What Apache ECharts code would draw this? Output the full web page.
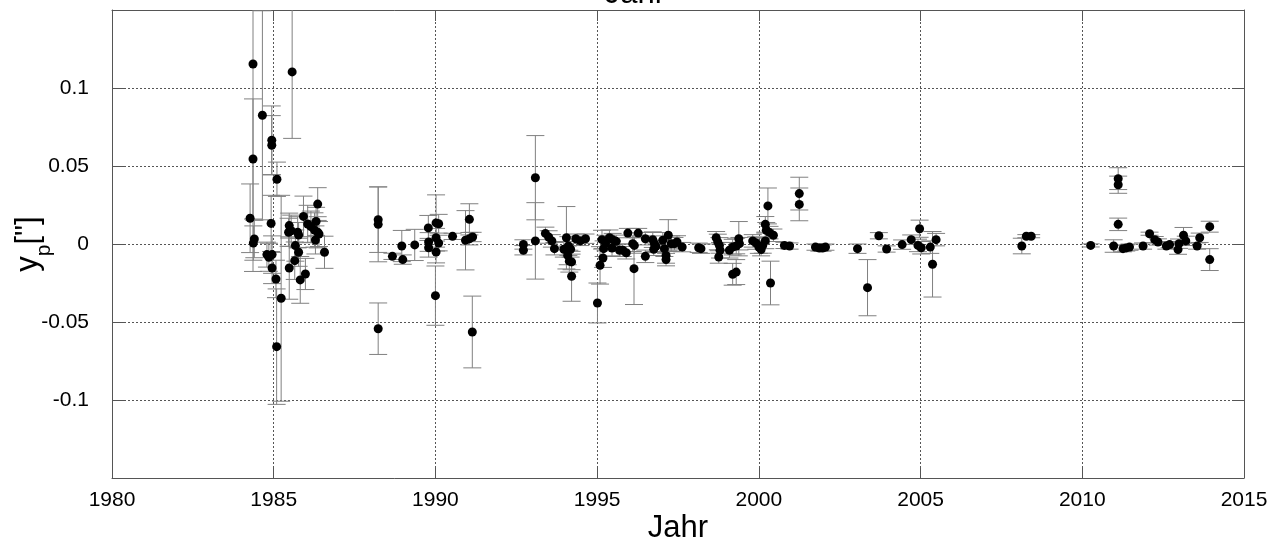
<!DOCTYPE html>
<html>
<head>
<meta charset="utf-8">
<script src="https://cdn.jsdelivr.net/npm/echarts@6/dist/echarts.min.js"></script>
<style>
html,body{margin:0;padding:0;background:#fff;}
#chart{width:1270px;height:541px;}
</style>
</head>
<body>
<div id="chart"></div>
<script>
// Observation epochs (year)
const years = [
 1984.36,1984.36,1984.27,1984.40,1984.37,1984.65,1984.94,1984.94,1985.10,1984.92,
 1984.79,1984.85,1984.95,1984.95,1985.07,1985.23,1985.09,1985.57,1985.48,1985.54,
 1985.46,1985.74,1985.77,1985.92,1985.67,1985.77,1985.65,1985.48,1985.82,1985.98,
 1986.05,1986.15,1986.26,1986.31,1986.36,1986.36,1986.40,1986.29,1986.57,
 1988.23,1988.23,1988.23,1988.67,1988.96,1988.99,1989.36,1989.78,1989.79,1989.79,
 1990.02,1990.02,1990.10,1990.10,1990.02,1990.00,1990.53,1991.05,1990.93,1991.05,
 1991.15,1991.14,
 1992.72,1992.72,1993.09,1993.09,1993.40,1993.50,1993.60,1993.68,1994.05,1993.97,
 1994.11,1994.18,1994.09,1994.14,1994.21,1994.21,1994.34,1994.48,1994.64,1995.01,
 1995.09,1995.18,1995.20,1995.26,1995.15,1995.38,1995.48,1995.59,1995.46,1995.69,
 1995.79,1995.90,1995.95,1996.10,1996.15,1996.14,1996.27,1996.49,1996.49,1996.72,
 1996.77,1996.75,1996.82,1997.03,1997.08,1997.13,1997.13,1997.20,1997.29,1997.39,
 1997.47,1997.63,1998.14,1998.21,1998.68,1998.73,1998.78,1998.80,1998.76,1999.09,
 1999.19,1999.30,1999.38,1999.19,1999.30,1999.40,1999.81,1999.92,2000.00,2000.07,
 2000.12,2000.20,2000.28,2000.20,2000.23,2000.33,2000.45,2000.36,2000.79,2000.95,
 2001.25,2001.25,2001.75,2001.87,2001.97,2002.06,2003.05,2003.36,2003.71,2003.95,
 2004.43,2004.71,2004.97,2004.92,2005.02,2005.30,2005.48,2005.37,
 2008.13,2008.27,2008.42,2010.26,2011.11,2011.11,2011.11,2010.97,2011.26,2011.36,
 2011.46,2011.88,2012.08,2012.24,2012.34,2012.60,2012.70,2012.96,2012.99,2013.13,
 2013.20,2013.55,2013.63,2013.94,2013.94
];
// Pole coordinate y_p (arcsec)
const yp = [
 0.1154,0.0545,0.0165,0.0032,0.0006,0.0825,0.0665,0.0633,0.0415,0.0132,
 -0.0068,-0.0085,-0.0068,-0.0154,-0.0224,-0.0348,-0.0658,0.1103,0.0118,0.0085,
 0.0075,0.0075,0.0058,0.0177,-0.0010,-0.0053,-0.0107,-0.0154,-0.0230,-0.0192,
 0.0128,0.0111,0.0090,0.0145,0.0256,0.0075,0.0064,0.0026,-0.0053,
 0.0156,0.0126,-0.0543,-0.0079,-0.0013,-0.0100,-0.0006,0.0103,0.0013,-0.0024,
 0.0040,0.0135,0.0130,0.0006,-0.0051,-0.0331,0.0049,0.0158,0.0024,0.0034,
 0.0045,-0.0564,
 -0.0003,-0.0040,0.0425,0.0020,0.0068,0.0045,0.0020,-0.0030,0.0040,-0.0034,
 -0.0013,-0.0034,-0.0073,-0.0110,-0.0115,-0.0207,0.0034,0.0020,0.0034,-0.0378,
 -0.0137,-0.0090,-0.0030,0.0006,0.0028,0.0040,0.0028,0.0017,-0.0026,-0.0040,
 -0.0040,-0.0056,0.0070,0.0002,-0.0009,-0.0158,0.0070,0.0034,-0.0079,0.0028,
 0.0002,-0.0034,-0.0015,0.0024,-0.0030,-0.0073,-0.0100,0.0056,0.0002,0.0002,
 0.0013,-0.0020,-0.0024,-0.0030,0.0040,0.0013,-0.0009,-0.0040,-0.0083,-0.0040,
 -0.0020,-0.0013,0.0034,-0.0194,-0.0180,0.0002,0.0020,0.0006,-0.0020,-0.0036,
 -0.0009,0.0020,0.0244,0.0126,0.0088,0.0073,0.0056,-0.0250,-0.0009,-0.0013,
 0.0323,0.0254,-0.0020,-0.0026,-0.0026,-0.0020,-0.0030,-0.0280,0.0053,-0.0032,
 -0.0004,0.0028,0.0098,-0.0009,-0.0024,-0.0020,0.0028,-0.0130,
 -0.0013,0.0050,0.0050,-0.0009,0.0419,0.0380,0.0126,-0.0013,-0.0030,-0.0025,
 -0.0020,-0.0013,0.0066,0.0028,0.0013,-0.0013,-0.0004,-0.0036,0.0002,0.0056,
 0.0020,-0.0013,0.0040,0.0111,-0.0100
];
// Standard errors (arcsec)
const err = [
 0.133,0.0385,0.022,0.012,0.011,0.067,0.022,0.019,0.011,0.018,
 0.008,0.009,0.012,0.010,0.012,0.066,0.037,0.0426,0.008,0.010,
 0.009,0.010,0.008,0.013,0.010,0.009,0.012,0.020,0.015,0.010,
 0.012,0.010,0.011,0.009,0.0105,0.010,0.008,0.009,0.0103,
 0.021,0.024,0.0165,0.002,0.010,0.003,0.010,0.008,0.006,0.006,
 0.006,0.018,0.006,0.005,0.007,0.019,0.002,0.010,0.019,0.004,
 0.003,0.023,
 0.003,0.003,0.027,0.0245,0.004,0.004,0.004,0.004,0.020,0.005,
 0.006,0.005,0.006,0.007,0.005,0.016,0.003,0.003,0.003,0.0128,
 0.012,0.006,0.005,0.005,0.006,0.005,0.004,0.004,0.005,0.004,
 0.004,0.004,0.003,0.005,0.005,0.023,0.003,0.004,0.004,0.005,
 0.005,0.004,0.004,0.005,0.005,0.005,0.004,0.010,0.005,0.004,
 0.004,0.003,0.003,0.003,0.004,0.005,0.005,0.005,0.004,0.005,
 0.005,0.005,0.011,0.007,0.008,0.004,0.004,0.004,0.004,0.004,
 0.005,0.005,0.0115,0.005,0.005,0.004,0.004,0.014,0.002,0.002,
 0.0105,0.0105,0.002,0.002,0.002,0.002,0.003,0.018,0.002,0.002,
 0.003,0.003,0.0055,0.004,0.004,0.004,0.004,0.021,
 0.005,0.001,0.001,0.001,0.007,0.0055,0.004,0.004,0.002,0.002,
 0.002,0.002,0.001,0.002,0.002,0.002,0.002,0.003,0.003,0.005,
 0.003,0.002,0.003,0.0035,0.007
];
const xTicks = [1980, 2015, 5];
const yTicks = [-0.15, 0.15, 0.05];

const FONT = '"Liberation Sans", Arial, sans-serif';
const AX = '#555';
const data = years.map((x, i) => [x, yp[i], err[i]]);

const chart = echarts.init(document.getElementById('chart'), null, {renderer: 'canvas'});
const yFmt = v => (Math.abs(Math.abs(v) - 0.15) < 1e-9) ? '' : String(+v.toFixed(2));
const xFmt = v => String(Math.round(v));

chart.setOption({
  animation: false,
  backgroundColor: '#fff',
  grid: {left: 112, right: 26, top: 10, bottom: 63, containLabel: false, outerBoundsMode: 'none'},
  graphic: [{
    type: 'text', left: 'center', top: -21,
    style: {text: 'Jahr', font: '31px ' + FONT, fill: '#000'}
  }],
  xAxis: [{
    type: 'value', min: xTicks[0], max: xTicks[1], interval: xTicks[2],
    position: 'bottom',
    name: 'Jahr', nameLocation: 'middle', nameGap: 35, nameMoveOverlap: false,
    nameTextStyle: {fontSize: 31, fontFamily: FONT, color: '#000'},
    axisLine: {show: true, onZero: false, lineStyle: {color: AX, width: 1}},
    axisTick: {show: true, inside: true, length: 11, lineStyle: {color: AX}},
    axisLabel: {fontSize: 21, fontFamily: FONT, color: '#000', margin: 12, formatter: xFmt},
    splitLine: {show: true, lineStyle: {color: AX, type: [2, 2], width: 1}}
  }, {
    type: 'value', min: xTicks[0], max: xTicks[1], interval: xTicks[2],
    position: 'top',
    axisLine: {show: true, onZero: false, lineStyle: {color: AX, width: 1}},
    axisTick: {show: true, inside: true, length: 11, lineStyle: {color: AX}},
    axisLabel: {show: false}, splitLine: {show: false}
  }],
  yAxis: [{
    type: 'value', min: yTicks[0], max: yTicks[1], interval: yTicks[2],
    position: 'left',
    name: 'y{s|p}["]', nameLocation: 'middle', nameGap: 57, nameRotate: 90, nameMoveOverlap: false,
    nameTextStyle: {fontSize: 31, fontFamily: FONT, color: '#000',
      rich: {s: {fontSize: 21, fontFamily: FONT, color: '#000', verticalAlign: 'bottom', padding: [33, 0, 0, 0]}}},
    axisLine: {show: true, onZero: false, lineStyle: {color: AX, width: 1}},
    axisTick: {show: true, inside: true, length: 12, lineStyle: {color: AX}},
    axisLabel: {fontSize: 21, fontFamily: FONT, color: '#000', margin: 23, formatter: yFmt},
    splitLine: {show: true, lineStyle: {color: AX, type: [2, 2], width: 1}}
  }, {
    type: 'value', min: yTicks[0], max: yTicks[1], interval: yTicks[2],
    position: 'right',
    axisLine: {show: true, onZero: false, lineStyle: {color: AX, width: 1}},
    axisTick: {show: true, inside: true, length: 12, lineStyle: {color: AX}},
    axisLabel: {show: false}, splitLine: {show: false}
  }],
  series: [{
    type: 'custom',
    xAxisIndex: 0, yAxisIndex: 0,
    clip: true,
    z: 2,
    data: data,
    renderItem: function (params, api) {
      const x = api.value(0), y = api.value(1), e = api.value(2);
      const top = api.coord([x, y + e]);
      const bot = api.coord([x, y - e]);
      const h = 9;
      const st = {stroke: '#808080', lineWidth: 1};
      return {
        type: 'group',
        children: [
          {type: 'line', shape: {x1: top[0], y1: top[1], x2: bot[0], y2: bot[1]}, style: st},
          {type: 'line', shape: {x1: top[0] - h, y1: top[1], x2: top[0] + h, y2: top[1]}, style: st},
          {type: 'line', shape: {x1: bot[0] - h, y1: bot[1], x2: bot[0] + h, y2: bot[1]}, style: st}
        ]
      };
    }
  }, {
    type: 'scatter',
    xAxisIndex: 0, yAxisIndex: 0,
    z: 3,
    symbol: 'circle', symbolSize: 9,
    itemStyle: {color: '#000', opacity: 1},
    data: data.map(d => [d[0], d[1]])
  }]
});
</script>
</body>
</html>
